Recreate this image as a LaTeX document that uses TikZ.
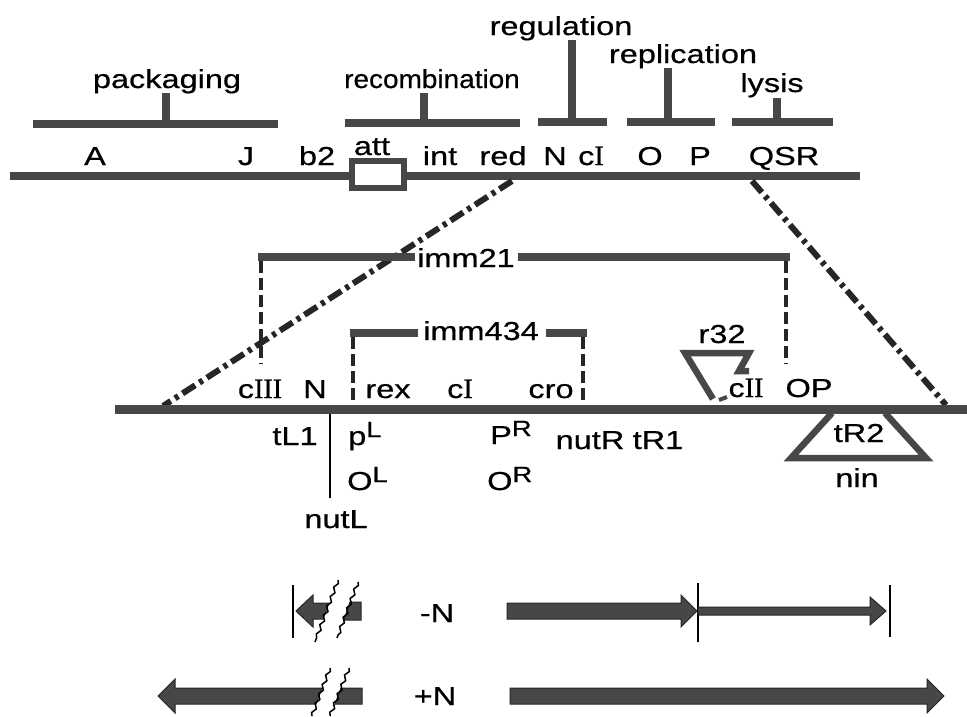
\documentclass[tikz,border=0pt]{standalone}
\usepackage{fontspec}
\setmainfont[FakeStretch=1.25,FakeBold=0.6]{Liberation Sans}
\newfontfamily\romfont[FakeBold=0.8]{Liberation Serif}
\usetikzlibrary{decorations.pathmorphing}
\definecolor{dna}{gray}{0.28}
\newcommand{\romnum}[1]{{\romfont\fontsize{28}{30}\selectfont #1}}
\newcommand{\supl}[1]{\raisebox{8pt}{\fontsize{22}{24}\selectfont #1}}
\begin{document}
\begin{tikzpicture}[x=1pt,y=-1pt,
  lbl/.style={inner sep=0pt,anchor=base,font=\fontsize{26}{30}\selectfont},
  bar/.style={draw=dna,line width=8pt},
  midbar/.style={draw=dna,line width=9pt},
  dashv/.style={draw=black!85,line width=3.5pt,dash pattern=on 12pt off 5pt},
  dashdot/.style={draw=black!85,line width=6pt,dash pattern=on 15pt off 5pt on 4pt off 5pt},
  arrowbody/.style={fill=dna,draw=black!85,line width=1pt,line join=miter},
  outline/.style={draw=dna,line width=6.5pt,line join=miter},
  thin/.style={draw=black,line width=2.5pt},
  wavy/.style={draw=black,line width=1.5pt,decorate,decoration={snake,segment length=10pt,amplitude=1.6pt}}
]
\useasboundingbox (0,0) rectangle (967,716);

% ---------- top genome map ----------
\coordinate (mapL) at (10,176);
\coordinate (mapR) at (860,176);
\draw[bar] (mapL) -- (mapR);
\node[draw=dna,line width=6pt,fill=white,minimum width=52pt,minimum height=27pt,inner sep=0pt] (attbox) at (377.5,174.5) {};

% group labels with bars and ticks
\node[lbl] (packaging) at (167,88) {packaging};
\node[lbl] (recomb) at (432,88) {\scalebox{0.86}[1]{recombination}};
\node[lbl] (regulation) at (561,35) {regulation};
\node[lbl] (replication) at (683,63) {replication};
\node[lbl] (lysis) at (772,92) {lysis};

\draw[bar] (33,124) -- (278,124);
\draw[bar] (166,93) -- (166,124);
\draw[bar] (345,123) -- (520,123);
\draw[bar] (424,93) -- (424,123);
\draw[bar] (538,122) -- (607,122);
\draw[bar] (572,40) -- (572,122);
\draw[bar] (627,122) -- (715,122);
\draw[bar] (668,68) -- (668,122);
\draw[bar] (732,122) -- (833,122);
\draw[bar] (777,98) -- (777,122);

% gene labels on top map
\node[lbl] (gA) at (95,165) {A};
\node[lbl] (gJ) at (246,165) {J};
\node[lbl] (gb2) at (317,165) {b2};
\node[lbl] (gatt) at (372,155) {att};
\node[lbl] (gint) at (440,165) {int};
\node[lbl] (gred) at (503,165) {red};
\node[lbl] (gN) at (555,165) {N};
\node[lbl] (gcI) at (591,165) {c\romnum{I}};
\node[lbl] (gO) at (650,165) {O};
\node[lbl] (gP) at (700,165) {P};
\node[lbl] (gQSR) at (784,165) {QSR};

% ---------- expansion lines ----------
\coordinate (zl1) at (512,181);
\coordinate (zl2) at (163,406);
\coordinate (zr1) at (752,181);
\coordinate (zr2) at (946,405);
\draw[dashdot] (zl1) -- (zl2);
\draw[dashdot] (zr1) -- (zr2);

% ---------- imm21 ----------
\node[lbl] (imm21) at (466,267) {imm21};
\draw[bar] (258,257) -- (415,257);
\draw[bar] (518,257) -- (790,257);
\draw[dashv] (261,261) -- (261,364);
\draw[dashv] (786,261) -- (786,364);

% ---------- imm434 ----------
\node[lbl] (imm434) at (481,340) {imm434};
\draw[bar] (350,333) -- (418,333);
\draw[bar] (546,333) -- (587,333);
\draw[dashv] (353,337) -- (353,400);
\draw[dashv] (583,337) -- (583,404);

% ---------- expanded map ----------
\draw[midbar] (115,409) -- (967,409);

\node[lbl] (cIII) at (260,398) {c\romnum{III}};
\node[lbl] (mN) at (315,398) {N};
\node[lbl] (rex) at (388,398) {rex};
\node[lbl] (mcI) at (460,398) {c\romnum{I}};
\node[lbl] (cro) at (551,398) {cro};
\node[lbl] (cII) at (746,397) {c\romnum{II}};
\node[lbl] (OP) at (809,397) {OP};

\node[lbl] (tL1) at (295,445) {tL1};
\node[lbl,anchor=base west] (pL) at (348,445) {p\supl{L}};
\node[lbl,anchor=base west] (PR) at (490,444) {P\supl{R}};
\node[lbl,anchor=base west] (OL) at (347,490) {O\supl{L}};
\node[lbl,anchor=base west] (OR) at (487,490) {O\supl{R}};
\node[lbl] (nutR) at (590,449) {nutR};
\node[lbl] (tR1) at (658,449) {tR1};
\node[lbl] (nutL) at (336,528) {nutL};
\draw[draw=black,line width=1.5pt] (330,414) -- (330,498);

% r32 deletion
\node[lbl] (r32) at (722,343) {r32};
\draw[outline] (713,399) -- (685,353) -- (749,353) -- (739,371) -- (749,371);
\draw[outline,line width=4pt] (719,400) -- (727,397);

% nin deletion
\node[lbl] (tR2) at (859,442) {tR2};
\node[lbl] (nin) at (857,487) {nin};
\draw[outline] (832,413) -- (791,458) -- (926,458) -- (885,413);

% ---------- transcripts -N ----------
\draw[thin] (293,585) -- (293,638);
\draw[arrowbody] (296,611) -- (313,595) -- (313,603) -- (329,603) -- (323,619) -- (313,619) -- (313,627) -- cycle;
\draw[arrowbody] (350,602) -- (361,602) -- (361,620) -- (344,620) -- cycle;
\draw[wavy] (338,580) -- (315,642);
\draw[wavy] (358,582) -- (337,638);
\node[lbl] (minusN) at (437,622) {-N};

\draw[arrowbody] (507,603) -- (681,603) -- (681,595) -- (697,611) -- (681,627) -- (681,619) -- (507,619) -- cycle;
\draw[thin] (698,583) -- (698,642);
\draw[arrowbody] (698,607) -- (870,607) -- (870,597) -- (886,611) -- (870,625) -- (870,615) -- (698,615) -- cycle;
\draw[thin] (890,585) -- (890,637);

% ---------- transcripts +N ----------
\draw[arrowbody] (158,696) -- (175,679) -- (175,688) -- (322,688) -- (316,704) -- (175,704) -- (175,713) -- cycle;
\draw[arrowbody] (341,688) -- (362,688) -- (362,704) -- (335,704) -- cycle;
\draw[wavy] (330,668) -- (312,716);
\draw[wavy] (349,668) -- (330,716);
\node[lbl] (plusN) at (435,705) {+N};

\draw[arrowbody] (510,688) -- (927,688) -- (927,679) -- (944,696) -- (927,713) -- (927,704) -- (510,704) -- cycle;
\end{tikzpicture}
\end{document}
